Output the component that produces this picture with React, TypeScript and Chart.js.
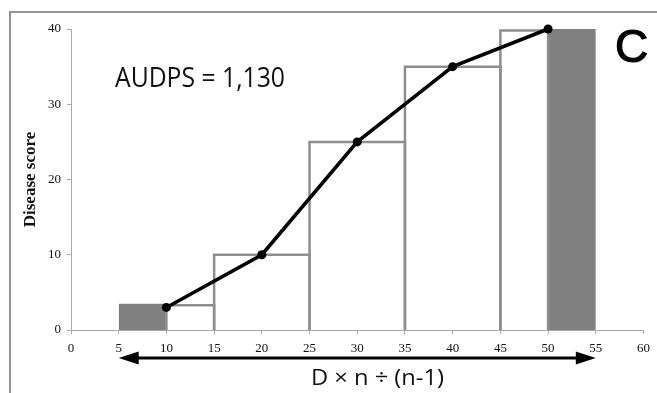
import React, { useEffect, useRef } from 'react';
import { Chart, registerables } from 'chart.js';

Chart.register(...registerables);

// ---- data ----
const days = [10, 20, 30, 40, 50];
const scores = [3, 10, 25, 35, 40];
const stepEdges = [10, 15, 25, 35, 45, 50];
const stepHeights = [3.3, 10, 25, 35, 39.8];
const shadedStarts = [5, 50];
const shadedEnds = [10, 55];
const shadedHeights = [3.5, 40.2];
const arrowSpan = [5, 55];
const xRange = [0, 60];
const yRange = [0, 40];
const xStep = 5;
const yStep = 10;
const yTitle = 'Disease score';
const audpsLabel = 'AUDPS = 1,130';
const panelLabel = 'C';
const formulaLabel = 'D × n ÷ (n-1)';

function rectPoints(x0: number, x1: number, h: number) {
  return [
    { x: x0, y: 0 },
    { x: x0, y: h },
    { x: x1, y: h },
    { x: x1, y: 0 },
  ];
}

function fitText(ctx: CanvasRenderingContext2D, text: string, x: number, y: number, targetWidth: number) {
  const w = ctx.measureText(text).width;
  const s = targetWidth / w;
  ctx.save();
  ctx.translate(x, y);
  ctx.scale(s, 1);
  ctx.textAlign = 'left';
  ctx.textBaseline = 'alphabetic';
  ctx.fillText(text, 0, 0);
  ctx.restore();
}

const annotations = {
  id: 'annotations',
  afterDraw(chart: any) {
    const ctx: CanvasRenderingContext2D = chart.ctx;
    const xs = chart.scales.x;
    ctx.save();
    // frame
    ctx.strokeStyle = '#959595';
    ctx.lineWidth = 2;
    ctx.beginPath();
    ctx.moveTo(10, 393);
    ctx.lineTo(10, 12);
    ctx.lineTo(657, 12);
    ctx.stroke();

    // AUDPS label
    ctx.fillStyle = '#111';
    ctx.font = '28px "Open Sans"';
    fitText(ctx, audpsLabel, 115, 87, 170);

    // panel letter
    ctx.font = '46px "Liberation Sans"';
    ctx.fillStyle = '#000';
    ctx.strokeStyle = '#000';
    ctx.lineWidth = 1.2;
    ctx.textAlign = 'left';
    ctx.textBaseline = 'alphabetic';
    ctx.fillText(panelLabel, 615, 62);
    ctx.strokeText(panelLabel, 615, 62);

    // double arrow
    const xa = xs.getPixelForValue(arrowSpan[0]);
    const xb = xs.getPixelForValue(arrowSpan[1]);
    const ya = 358;
    const headL = 20;
    const headH = 6.5;
    ctx.strokeStyle = '#000';
    ctx.lineWidth = 3;
    ctx.beginPath();
    ctx.moveTo(xa + headL - 2, ya);
    ctx.lineTo(xb - headL + 2, ya);
    ctx.stroke();
    ctx.beginPath();
    ctx.moveTo(xa, ya);
    ctx.lineTo(xa + headL, ya - headH);
    ctx.lineTo(xa + headL, ya + headH);
    ctx.closePath();
    ctx.fill();
    ctx.beginPath();
    ctx.moveTo(xb, ya);
    ctx.lineTo(xb - headL, ya - headH);
    ctx.lineTo(xb - headL, ya + headH);
    ctx.closePath();
    ctx.fill();

    // formula
    ctx.fillStyle = '#111';
    ctx.font = '22px "Open Sans"';
    fitText(ctx, formulaLabel, 311, 385, 133);
    ctx.restore();
  },
};

export default function App() {
  const ref = useRef<HTMLCanvasElement | null>(null);

  useEffect(() => {
    if (!ref.current) return;
    const fills = shadedStarts.map((s, i) => ({
      type: 'line' as const,
      data: rectPoints(s, shadedEnds[i], shadedHeights[i]),
      borderWidth: 0,
      borderColor: 'rgba(0,0,0,0)',
      backgroundColor: '#808080',
      fill: 'origin',
      pointRadius: 0,
      tension: 0,
      clip: false,
      order: 3,
    }));
    const outlines = stepHeights.map((h, i) => ({
      type: 'line' as const,
      data: rectPoints(stepEdges[i], stepEdges[i + 1], h),
      borderWidth: 2.5,
      borderColor: '#8e8e8e',
      fill: false,
      pointRadius: 0,
      tension: 0,
      clip: false,
      order: 2,
    }));
    const line = {
      type: 'line' as const,
      data: days.map((d, i) => ({ x: d, y: scores[i] })),
      borderWidth: 3.5,
      borderColor: '#000',
      backgroundColor: '#000',
      pointRadius: 4.5,
      pointBackgroundColor: '#000',
      pointBorderWidth: 0,
      fill: false,
      tension: 0,
      clip: false,
      order: 0,
    };

    const tickFont = { family: '"Liberation Serif", "Times New Roman", serif', size: 13 };

    const chart = new Chart(ref.current, {
      type: 'line',
      data: { datasets: [line, ...outlines, ...fills] as any },
      options: {
        animation: false,
        responsive: false,
        maintainAspectRatio: false,
        parsing: false as any,
        layout: { padding: { top: 29, right: 13, left: 0, bottom: 0 } },
        plugins: {
          legend: { display: false },
          tooltip: { enabled: false },
        },
        scales: {
          x: {
            type: 'linear',
            min: xRange[0],
            max: xRange[1],
            ticks: { stepSize: xStep, color: '#111', font: tickFont, padding: 7, maxRotation: 0, autoSkip: false },
            grid: { drawOnChartArea: false, drawTicks: true, tickLength: 4, color: '#aaaaaa' },
            border: { display: true, color: '#aaaaaa', width: 1 },
            afterFit: (s: any) => { s.height = 63; },
          },
          y: {
            type: 'linear',
            min: yRange[0],
            max: yRange[1],
            ticks: { stepSize: yStep, color: '#111', font: tickFont, padding: 6 },
            grid: { drawOnChartArea: false, drawTicks: true, tickLength: 4, color: '#aaaaaa' },
            border: { display: true, color: '#aaaaaa', width: 1 },
            title: {
              display: true,
              text: yTitle,
              color: '#111',
              font: { family: '"Liberation Serif", "Times New Roman", serif', size: 17, weight: 'bold' },
              padding: { top: 20, bottom: 0 },
            },
            afterFit: (s: any) => { s.width = 71; },
          },
        },
      },
      plugins: [annotations],
    });
    return () => chart.destroy();
  }, []);

  return (
    <canvas
      ref={ref}
      width={657}
      height={393}
      style={{ position: 'fixed', left: 0, top: 0, width: 657, height: 393, display: 'block', background: '#fff' }}
    />
  );
}
